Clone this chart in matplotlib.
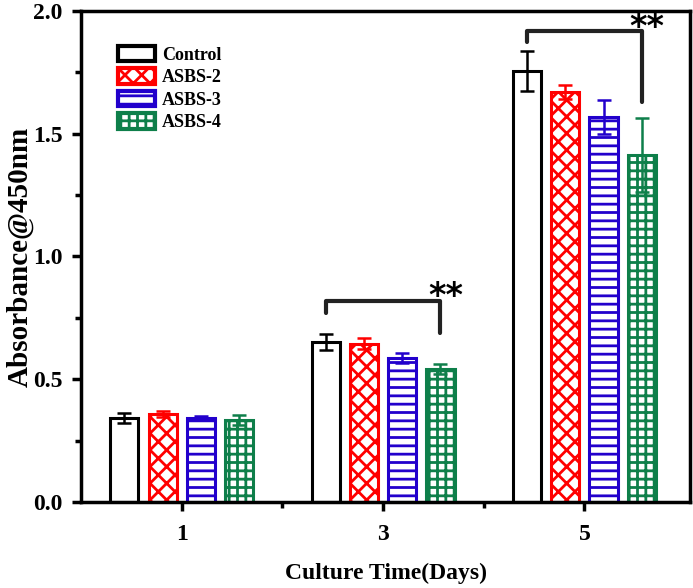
import matplotlib
matplotlib.use("Agg")
import matplotlib.pyplot as plt
import numpy as np
from matplotlib.ticker import MultipleLocator, FixedLocator, FormatStrFormatter

plt.rcParams['font.family'] = ['Liberation Serif', 'DejaVu Serif']
plt.rcParams['font.weight'] = 'bold'
plt.rcParams['hatch.linewidth'] = 2.0

days = [1, 3, 5]
series = ["Control", "ASBS-2", "ASBS-3", "ASBS-4"]
control = [0.342, 0.652, 1.756]
control_err = [0.022, 0.032, 0.082]
asbs2 = [0.357, 0.644, 1.670]
asbs2_err = [0.012, 0.022, 0.030]
asbs3 = [0.344, 0.587, 1.568]
asbs3_err = [0.008, 0.020, 0.070]
asbs4 = [0.334, 0.542, 1.413]
asbs4_err = [0.022, 0.020, 0.150]

values = [control, asbs2, asbs3, asbs4]
errors = [control_err, asbs2_err, asbs3_err, asbs4_err]
colors = ["black", "#FF0000", "#2200CC", "#0E7F4A"]
hatches = [None, "xx", "--", "++"]

fig = plt.figure(figsize=(6.93, 5.88), dpi=100)
ax = fig.add_axes([0.117, 0.1463, 0.8788, 0.835])

width = 0.28
pitch = 0.38
x = np.array(days, dtype=float)
for i, (v, e, c, h, name) in enumerate(zip(values, errors, colors, hatches, series)):
    xs = x + (i - 1.5) * pitch
    ax.bar(xs, v, width=width, facecolor="white", edgecolor=c, hatch=h,
           linewidth=2.2, label=name, zorder=2)
    ax.errorbar(xs, v, yerr=e, fmt="none", ecolor=c, elinewidth=1.8,
                capsize=5, capthick=1.8, zorder=3)

# significance brackets
def bracket(x1, x2, y, yl, yr, text):
    ax.plot([x1, x1, x2, x2], [yl, y, y, yr], color="#222222", lw=3,
            solid_capstyle="round", solid_joinstyle="round", zorder=4)
    ax.text(x2 + 0.05, y - 0.05, text, ha="center", va="bottom",
            fontsize=24, fontweight="bold", color="black", family="DejaVu Sans")

bracket(x[1] + (0 - 1.5) * pitch, x[1] + (3 - 1.5) * pitch, 0.82, 0.77, 0.69, "**")
bracket(x[2] + (0 - 1.5) * pitch, x[2] + (3 - 1.5) * pitch, 1.917, 1.872, 1.63, "**")

ax.set_xlim(0, 6.05)
ax.set_ylim(0, 2.0)
ax.set_xticks(days)
ax.xaxis.set_minor_locator(FixedLocator([2, 4]))
ax.yaxis.set_major_locator(MultipleLocator(0.5))
ax.yaxis.set_minor_locator(MultipleLocator(0.25))
ax.yaxis.set_major_formatter(FormatStrFormatter("%.1f"))
ax.tick_params(axis="both", which="major", direction="out", length=6.5, width=2.5,
               labelsize=17, top=False, right=False)
ax.tick_params(axis="y", which="major", pad=7)
ax.tick_params(axis="x", which="major", pad=9)
ax.tick_params(axis="both", which="minor", direction="out", length=4, width=2.5,
               top=False, right=False)
for sp in ax.spines.values():
    sp.set_linewidth(2.5)

ax.set_xlabel("Culture Time(Days)", fontsize=17, fontweight="bold", labelpad=13)
ax.set_ylabel("Absorbance@450nm", fontsize=21, fontweight="bold")
ax.yaxis.set_label_coords(-0.077, 0.5)

leg = ax.legend(loc="upper left", bbox_to_anchor=(0.04, 0.955), frameon=False,
                fontsize=13, handlelength=2.05, handleheight=0.95, labelspacing=0.25,
                handletextpad=0.4, borderpad=0.2)
for t in leg.get_texts():
    t.set_fontweight("bold")
for p in leg.get_patches():
    p.set_linewidth(3)

fig.savefig("out.png", dpi=100)
